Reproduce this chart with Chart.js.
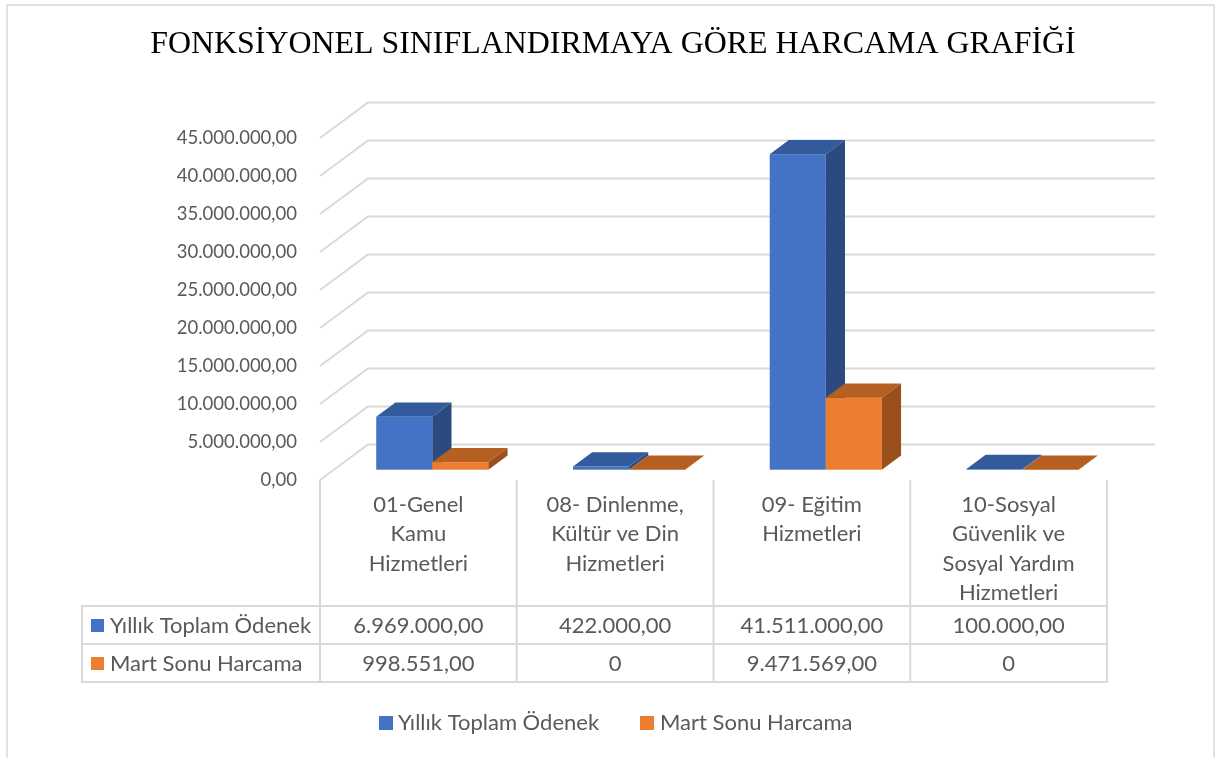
<!DOCTYPE html>
<html>
<head>
<meta charset="utf-8">
<script src="https://cdn.jsdelivr.net/npm/chart.js@4.4.1/dist/chart.umd.min.js"></script>
<style>html,body{margin:0;padding:0;background:#fff}canvas{display:block}</style>
</head>
<body>
<canvas id="c" width="1217" height="758"></canvas>
<script>
// ---- data ----
const categories = [
  ["01-Genel", "Kamu", "Hizmetleri"],
  ["08- Dinlenme,", "Kültür ve Din", "Hizmetleri"],
  ["09- Eğitim", "Hizmetleri"],
  ["10-Sosyal", "Güvenlik ve", "Sosyal Yardım", "Hizmetleri"]
];
const seriesNames = ["Yıllık Toplam Ödenek", "Mart Sonu Harcama"];
const yillikToplamOdenek = [6969000, 422000, 41511000, 100000];
const martSonuHarcama = [998551, 0, 9471569, 0];
const yTickLabels = ["0,00", "5.000.000,00", "10.000.000,00", "15.000.000,00", "20.000.000,00",
  "25.000.000,00", "30.000.000,00", "35.000.000,00", "40.000.000,00", "45.000.000,00"];
const titleText = "FONKSİYONEL SINIFLANDIRMAYA GÖRE HARCAMA GRAFİĞİ";

// ---- styles ----
const palette = [
  { front: "#4472C4", top: "#335A9B", side: "#2B4A80" },
  { front: "#ED7D31", top: "#B65F22", side: "#9B4F1C" }
];
const FONT = "Lato";
const FS = 18.5;      // axis labels
const FT = 22;        // table & legend
const TXT = "#595959";
const GRID = "#D9D9D9";
const DX = 48, DY = -35.5;     // wall depth
const F0 = 0.29, F1 = 0.69;    // bar depth range

function fmt(v) {
  if (v === 0) return "0";
  let [i, d] = v.toFixed(2).split(".");
  i = i.replace(/\B(?=(\d{3})+(?!\d))/g, ".");
  return i + "," + d;
}

const threeD = {
  id: "threeD",
  beforeDatasetsDraw(chart) {
    const { ctx, chartArea: a, scales: { y } } = chart;
    ctx.save();
    ctx.strokeStyle = GRID; ctx.lineWidth = 2;
    y.ticks.forEach(t => {
      const py = y.getPixelForValue(t.value);
      ctx.beginPath();
      ctx.moveTo(a.left, py);
      ctx.lineTo(a.left + DX, py + DY);
      ctx.lineTo(a.right + DX, py + DY);
      ctx.stroke();
    });
    ctx.restore();
  },
  afterDatasetsDraw(chart) {
    const ctx = chart.ctx;
    const n = chart.data.labels.length;
    const sx = DX * F0, sy = DY * F0, ddx = DX * (F1 - F0), ddy = DY * (F1 - F0);
    ctx.save();
    for (let i = 0; i < n; i++) {
      chart.data.datasets.forEach((ds, di) => {
        const el = chart.getDatasetMeta(di).data[i];
        const p = el.getProps(["x", "y", "base", "width"], true);
        const l = p.x - p.width / 2 + sx, r = p.x + p.width / 2 + sx;
        const t = Math.min(p.y, p.base) + sy, b = Math.max(p.y, p.base) + sy;
        const c = palette[di];
        ctx.fillStyle = c.front;
        ctx.fillRect(l, t, r - l, b - t);
        ctx.fillStyle = c.top;
        ctx.beginPath();
        ctx.moveTo(l, t); ctx.lineTo(l + ddx, t + ddy); ctx.lineTo(r + ddx, t + ddy); ctx.lineTo(r, t);
        ctx.closePath(); ctx.fill();
        ctx.fillStyle = c.side;
        ctx.beginPath();
        ctx.moveTo(r, t); ctx.lineTo(r + ddx, t + ddy); ctx.lineTo(r + ddx, b + ddy); ctx.lineTo(r, b);
        ctx.closePath(); ctx.fill();
      });
    }
    ctx.restore();
  },
  afterDraw(chart) {
    const { ctx, chartArea: a, scales: { x } } = chart;
    const n = chart.data.labels.length;
    const cw = (a.right - a.left) / n;
    ctx.save();
    // border
    ctx.strokeStyle = GRID; ctx.lineWidth = 1.5;
    ctx.strokeRect(7, 5, 1207, 800);
    // title
    ctx.fillStyle = "#000";
    ctx.font = "31.9px 'Liberation Serif'";
    ctx.textAlign = "center"; ctx.textBaseline = "middle";
    ctx.fillText(titleText, 613, 45);
    // table
    const tTop = 606, rowH = 38, tLeft = 82;
    ctx.strokeStyle = GRID; ctx.lineWidth = 2;
    ctx.beginPath();
    for (let k = 0; k <= n; k++) {
      const xx = a.left + k * cw;
      ctx.moveTo(xx, a.bottom); ctx.lineTo(xx, tTop + 2 * rowH);
    }
    ctx.moveTo(tLeft, tTop); ctx.lineTo(tLeft, tTop + 2 * rowH);
    for (let r = 0; r <= 2; r++) {
      ctx.moveTo(tLeft - 1, tTop + r * rowH); ctx.lineTo(a.right + 1, tTop + r * rowH);
    }
    ctx.stroke();
    ctx.fillStyle = TXT;
    ctx.font = FT + "px " + FONT;
    ctx.textAlign = "center"; ctx.textBaseline = "middle";
    chart.data.labels.forEach((lab, i) => {
      const cx = x.getPixelForValue(i);
      lab.forEach((ln, j) => ctx.fillText(ln, cx, 505 + j * 29.3));
    });
    chart.data.datasets.forEach((ds, di) => {
      const cy = tTop + rowH * di + rowH / 2;
      ctx.fillStyle = palette[di].front;
      ctx.fillRect(91, cy - 6, 13, 13);
      ctx.fillStyle = TXT;
      ctx.textAlign = "left";
      ctx.fillText(ds.label, 110, cy + 1);
      ctx.textAlign = "center";
      ds.data.forEach((v, i) => ctx.fillText(fmt(v), x.getPixelForValue(i), cy + 1));
    });
    // legend
    const lg = [[379, 398], [640, 660]];
    chart.data.datasets.forEach((ds, di) => {
      ctx.fillStyle = palette[di].front;
      ctx.fillRect(lg[di][0], 716, 14, 14);
      ctx.fillStyle = TXT;
      ctx.textAlign = "left";
      ctx.fillText(ds.label, lg[di][1], 723);
    });
    ctx.restore();
  }
};

Chart.defaults.font.family = FONT;
Chart.defaults.font.size = FS;
Chart.defaults.color = TXT;

new Chart(document.getElementById("c"), {
  type: "bar",
  data: {
    labels: categories,
    datasets: [
      { label: seriesNames[0], data: yillikToplamOdenek, backgroundColor: "rgba(0,0,0,0)", borderWidth: 0 },
      { label: seriesNames[1], data: martSonuHarcama, backgroundColor: "rgba(0,0,0,0)", borderWidth: 0 }
    ]
  },
  options: {
    responsive: false,
    animation: false,
    devicePixelRatio: 1,
    layout: { padding: { top: 138, right: 110, bottom: 278, left: 7 } },
    categoryPercentage: 0.57,
    barPercentage: 1.0,
    plugins: { legend: { display: false }, title: { display: false }, tooltip: { enabled: false } },
    scales: {
      x: { display: false, offset: true },
      y: {
        min: 0, max: 45000000,
        grid: { display: false }, border: { display: false },
        ticks: { stepSize: 5000000, padding: 15, callback: (v, i) => yTickLabels[i] },
        afterFit(s) { s.width = 313; s.paddingTop = 0; s.paddingBottom = 0; }
      }
    }
  },
  plugins: [threeD]
});
</script>
</body>
</html>
